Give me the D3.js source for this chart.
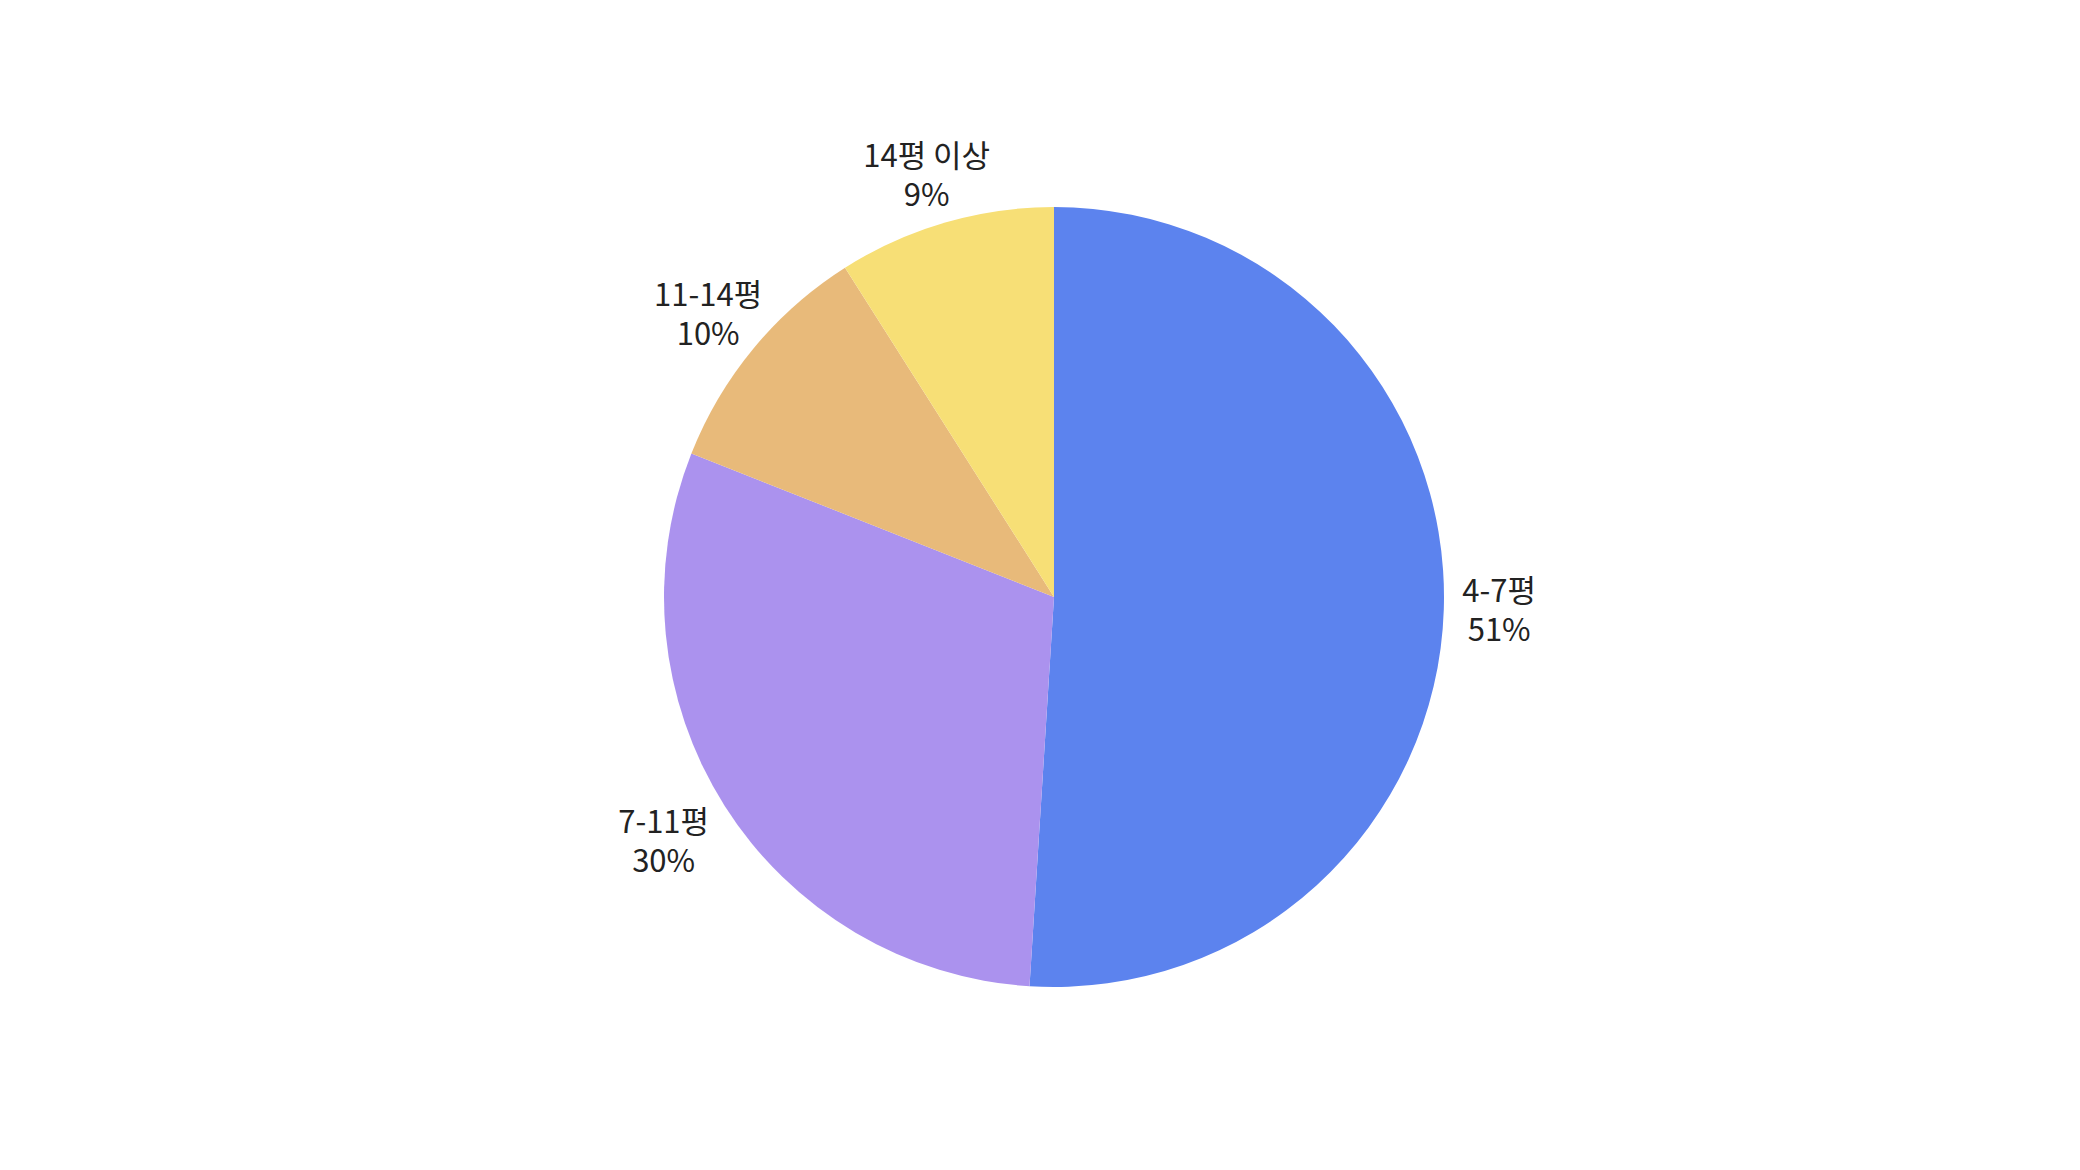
<!DOCTYPE html>
<html>
<head>
<meta charset="utf-8">
<script src="https://cdn.jsdelivr.net/npm/d3@7"></script>
<style>
  body { margin: 0; background: #fff; }
  text { font-family: "Noto Sans CJK KR", "Noto Sans", sans-serif; }
</style>
</head>
<body>
<svg id="chart" width="2080" height="1170"></svg>
<script>
const categories = ["4-7평", "7-11평", "11-14평", "14평 이상"];
const shares = [51, 30, 10, 9];
const colors = ["#5c83ee", "#ab92ee", "#e8ba7a", "#f7df76"];

const cx = 1054;
const cy = 597;
const radius = 390;

const data = categories.map((c, i) => ({ name: c, value: shares[i] }));

const svg = d3.select("#chart");
const g = svg.append("g").attr("transform", `translate(${cx},${cy})`);

const pie = d3.pie().value((d) => d.value).sort(null);
const arcs = pie(data);

const arc = d3.arc().innerRadius(0).outerRadius(radius);

const colorScale = d3.scaleOrdinal().domain(categories).range(colors);

g.selectAll("path")
  .data(arcs)
  .join("path")
  .attr("d", arc)
  .attr("fill", (d) => colorScale(d.data.name));

// label anchor: outside the slice, slightly further out on the lower half
function labelPos(d) {
  const a = (d.startAngle + d.endAngle) / 2;
  const ux = Math.sin(a);
  const uy = -Math.cos(a);
  const r = 450 + 12 * uy;
  return [r * ux - 5, r * uy];
}

const labels = g
  .selectAll("text.label")
  .data(arcs)
  .join("text")
  .attr("class", "label")
  .attr("text-anchor", "middle")
  .attr("font-size", 31)
  .attr("fill", "#222")
  .attr("transform", (d) => `translate(${labelPos(d)})`);

labels
  .append("tspan")
  .attr("x", 0)
  .attr("y", -9)
  .text((d) => d.data.name);

labels
  .append("tspan")
  .attr("x", 0)
  .attr("y", 30)
  .text((d) => d.data.value + "%");
</script>
</body>
</html>
